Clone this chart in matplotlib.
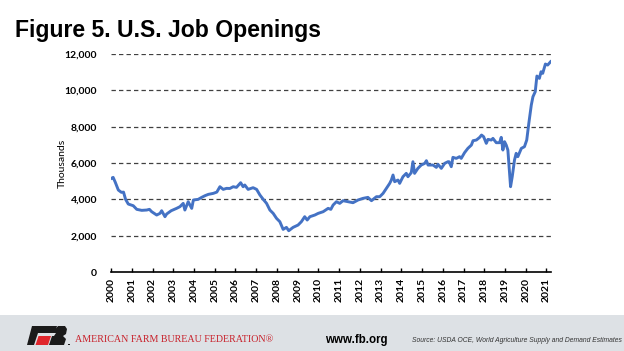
import numpy as np
import matplotlib
matplotlib.use("Agg")
import matplotlib.pyplot as plt
from matplotlib.patches import Rectangle, Polygon

# job openings, thousands (x = position on the year axis)
years = [2000.02, 2000.1, 2000.2, 2000.35, 2000.5, 2000.6, 2000.7, 2000.83, 2001.07, 2001.24,
         2001.48, 2001.72, 2001.85, 2001.96, 2002.2, 2002.36, 2002.44, 2002.6, 2002.68, 2002.9,
         2003.16, 2003.32, 2003.48, 2003.56, 2003.72, 2003.89, 2003.97, 2004.2, 2004.37, 2004.53,
         2004.69, 2004.93, 2005.1, 2005.25, 2005.41, 2005.57, 2005.73, 2005.89, 2006.05, 2006.25,
         2006.37, 2006.45, 2006.61, 2006.85, 2007.02, 2007.18, 2007.34, 2007.5, 2007.66, 2007.82,
         2007.98, 2008.14, 2008.3, 2008.46, 2008.57, 2008.78, 2009.02, 2009.18, 2009.34, 2009.46,
         2009.59, 2009.83, 2009.99, 2010.23, 2010.47, 2010.6, 2010.71, 2010.87, 2011.03, 2011.19,
         2011.43, 2011.67, 2011.91, 2012.15, 2012.39, 2012.56, 2012.8, 2012.96, 2013.12, 2013.28,
         2013.44, 2013.52, 2013.6, 2013.68, 2013.84, 2013.92, 2014.08, 2014.24, 2014.32, 2014.48,
         2014.56, 2014.64, 2014.8, 2014.96, 2015.13, 2015.21, 2015.29, 2015.53, 2015.69, 2015.77,
         2015.93, 2016.09, 2016.25, 2016.3, 2016.41, 2016.49, 2016.65, 2016.81, 2016.89, 2017.05,
         2017.21, 2017.38, 2017.46, 2017.62, 2017.78, 2017.87, 2017.97, 2018.1, 2018.18, 2018.34,
         2018.42, 2018.58, 2018.74, 2018.82, 2018.9, 2018.98, 2019.06, 2019.14, 2019.27, 2019.35,
         2019.46, 2019.54, 2019.62, 2019.79, 2019.94, 2020.05, 2020.15, 2020.27, 2020.35, 2020.46,
         2020.54, 2020.66, 2020.74, 2020.82, 2020.95, 2021.06, 2021.2]
openings = [5160, 5210, 4950, 4514, 4385, 4400, 4000, 3743, 3650, 3450,
            3395, 3413, 3450, 3320, 3138, 3230, 3375, 3046, 3193, 3375,
            3505, 3596, 3780, 3413, 3871, 3505, 3964, 4000, 4110, 4202,
            4275, 4330, 4400, 4697, 4550, 4606, 4600, 4697, 4660, 4917,
            4697, 4790, 4550, 4643, 4550, 4239, 4000, 3780, 3413, 3229,
            2955, 2771, 2349, 2459, 2275, 2459, 2587, 2771, 3046, 2863,
            3046, 3138, 3229, 3321, 3505, 3450, 3688, 3871, 3780, 3927,
            3871, 3816, 3964, 4055, 4110, 3927, 4147, 4147, 4330, 4606,
            4881, 5064, 5340, 4973, 5064, 4881, 5248, 5432, 5248, 5468,
            6073, 5432, 5707, 5890, 5982, 6130, 5890, 5890, 5762, 5927,
            5707, 5982, 6073, 6073, 5799, 6313, 6257, 6350, 6257, 6570,
            6808, 6990, 7230, 7267, 7414, 7542, 7450, 7083, 7303, 7267,
            7358, 7120, 7120, 7414, 6716, 7175, 6990, 6716, 4697, 5248,
            6166, 6533, 6350, 6808, 6900, 7267, 8184, 9193, 9652, 9926,
            10790, 10660, 11027, 10937, 11450, 11395, 11578]
tick_years = list(range(2000, 2022))
y_ticks = [0, 2000, 4000, 6000, 8000, 10000, 12000]

W, H = 624, 351
fig = plt.figure(figsize=(6.24, 3.51), dpi=100)
ax = fig.add_axes([0.178, 0.225, 0.705, 0.621])

ax.plot(years, openings, color="#4472C4", lw=2.1, solid_joinstyle="round")

ax.set_xlim(2000, 2021.22)
ax.set_ylim(0, 12000)
ax.set_yticks(y_ticks)
ax.set_yticklabels([f"{v:,}" for v in y_ticks], fontsize=7.5, fontweight="bold", family="Lato")
ax.set_xticks(tick_years)
ax.set_xticklabels([str(y) for y in tick_years], rotation=90, fontsize=7.5,
                   fontweight="bold", family="Lato")
for v in y_ticks[1:]:
    ax.axhline(v, color="#404040", lw=0.9, ls=(0, (3.5, 2.5)), zorder=0)
for s in ["top", "right", "left"]:
    ax.spines[s].set_visible(False)
ax.spines["bottom"].set_linewidth(1.2)
ax.tick_params(axis="x", direction="in", length=3, width=1, pad=4)
ax.tick_params(axis="y", length=0, pad=10)
ax.set_ylabel("Thousands", fontsize=7.5, family="Lato")
ax.yaxis.set_label_coords(-0.1, 0.5)

fig.text(0.024, 0.913, "Figure 5. U.S. Job Openings", fontsize=16.6, fontweight="bold",
         family="Liberation Sans", va="center", ha="left")

# footer band
def px(pts):
    return [(x / W, 1 - y / H) for x, y in pts]

fig.add_artist(Rectangle((0, 0), 1, 36 / H, transform=fig.transFigure,
                         facecolor="#dde1e5", edgecolor="none"))
# FB logo
fig.add_artist(Polygon(px([(32, 326), (57, 326), (55, 333), (38, 333), (34, 345), (27, 345)]),
                       closed=True, transform=fig.transFigure, facecolor="#1a1a1a"))
fig.add_artist(Polygon(px([(38.5, 336), (51, 336), (48, 345), (35.5, 345)]),
                       closed=True, transform=fig.transFigure, facecolor="#e0262c"))
fig.add_artist(Polygon(px([(58, 326), (65, 326), (67, 329), (66, 334), (63, 336), (66, 339),
                           (64, 345), (49, 345), (52, 336), (54, 336), (56, 333), (52, 333)]),
                       closed=True, transform=fig.transFigure, facecolor="#1a1a1a"))
fig.add_artist(Rectangle((68 / W, 1 - 345 / H), 1.5 / W, 1.5 / H, transform=fig.transFigure,
                         facecolor="#1a1a1a"))
fig.text(75 / W, 1 - 339 / H, "AMERICAN FARM BUREAU FEDERATION\u00ae", fontsize=7.2,
         family="Liberation Serif", color="#c8202a", va="center", ha="left")
fig.text(325 / W, 1 - 339.5 / H, "www.fb.org", fontsize=8.3, fontweight="bold",
         family="Liberation Sans", va="center", ha="left")
fig.text(412 / W, 1 - 340 / H, "Source: USDA OCE, World Agriculture Supply and Demand Estimates",
         fontsize=4.85, style="italic", family="Liberation Sans", color="#333333",
         va="center", ha="left")

fig.savefig("out.png", dpi=100)
